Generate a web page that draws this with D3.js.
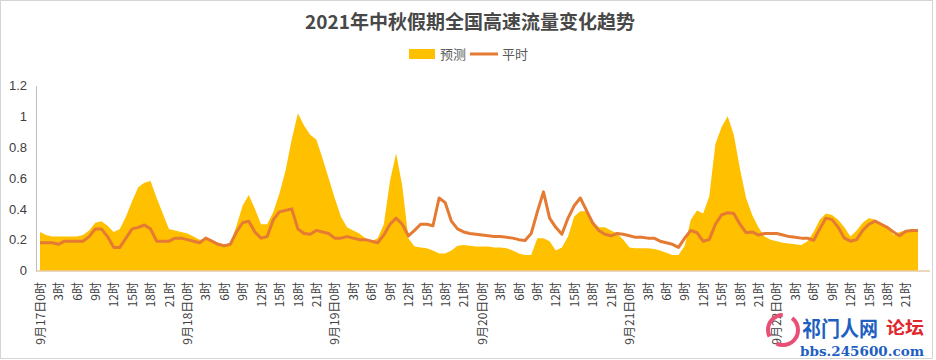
<!DOCTYPE html>
<html><head><meta charset="utf-8">
<script src="https://cdn.jsdelivr.net/npm/d3@7/dist/d3.min.js"></script>
<style>body{margin:0;background:#fff}svg{display:block}</style>
</head><body>
<svg id="c" width="936" height="360"></svg>
<script>
const title = "2021年中秋假期全国高速流量变化趋势";
const seriesNames = ["预测", "平时"];
const days = ["9月17日", "9月18日", "9月19日", "9月20日", "9月21日", "9月22日"];
const hours = d3.range(24);
const categories = days.flatMap(d => hours.map(h => d + h + "时"));
const tickLabels = days.flatMap(d => hours.filter(h => h % 3 === 0).map(h => (h === 0 ? d : "") + h + "时"));
const yTicks = [0, 0.2, 0.4, 0.6, 0.8, 1, 1.2];

const forecast = [
  0.25,0.23,0.22,0.22,0.22,0.22,0.22,0.23,0.26,0.31,0.32,0.29,0.25,0.27,0.35,0.45,0.54,0.57,0.58,0.47,0.37,0.27,0.26,0.25,
  0.24,0.22,0.20,0.20,0.19,0.18,0.17,0.17,0.29,0.42,0.49,0.40,0.30,0.30,0.38,0.50,0.65,0.85,1.02,0.94,0.88,0.85,0.73,0.60,
  0.47,0.35,0.28,0.26,0.24,0.21,0.19,0.21,0.30,0.58,0.76,0.55,0.21,0.155,0.15,0.145,0.13,0.11,0.11,0.13,0.16,0.165,0.16,0.155,
  0.155,0.155,0.15,0.15,0.145,0.13,0.11,0.10,0.10,0.21,0.21,0.19,0.13,0.15,0.22,0.35,0.385,0.385,0.32,0.28,0.28,0.26,0.24,0.20,
  0.15,0.145,0.145,0.145,0.14,0.13,0.115,0.10,0.10,0.16,0.33,0.39,0.37,0.48,0.82,0.93,1.00,0.88,0.66,0.47,0.36,0.28,0.22,0.20,
  0.19,0.18,0.175,0.17,0.165,0.19,0.25,0.33,0.37,0.36,0.33,0.28,0.22,0.26,0.31,0.34,0.33,0.31,0.28,0.23,0.25,0.26,0.26,0.26
];
const usual = [
  0.18,0.18,0.18,0.17,0.19,0.19,0.19,0.19,0.22,0.27,0.27,0.22,0.15,0.15,0.21,0.27,0.28,0.295,0.27,0.19,0.19,0.19,0.21,0.21,
  0.20,0.19,0.18,0.21,0.19,0.17,0.16,0.17,0.25,0.31,0.32,0.25,0.21,0.22,0.33,0.38,0.39,0.40,0.27,0.24,0.235,0.26,0.25,0.24,
  0.21,0.21,0.22,0.21,0.20,0.20,0.19,0.18,0.23,0.30,0.34,0.30,0.225,0.26,0.30,0.30,0.29,0.47,0.44,0.32,0.27,0.25,0.24,0.235,
  0.23,0.225,0.22,0.22,0.215,0.21,0.20,0.195,0.24,0.38,0.51,0.34,0.28,0.235,0.34,0.42,0.47,0.39,0.31,0.26,0.235,0.225,0.24,0.235,
  0.225,0.215,0.215,0.21,0.21,0.19,0.18,0.17,0.15,0.21,0.26,0.245,0.19,0.20,0.30,0.36,0.375,0.37,0.30,0.245,0.25,0.23,0.24,0.24,
  0.24,0.23,0.22,0.215,0.21,0.21,0.195,0.27,0.34,0.33,0.28,0.21,0.19,0.20,0.26,0.30,0.32,0.30,0.28,0.25,0.225,0.255,0.26,0.26
];

const svg = d3.select("#c");
const font = "'Noto Sans CJK SC', 'Noto Sans', sans-serif";
svg.append("rect").attr("x",0.5).attr("y",0.5).attr("width",932).attr("height",358)
  .attr("fill","#fff").attr("stroke","#d4d4d4");

const x = d3.scalePoint().domain(categories).range([40, 918]);
const y = d3.scaleLinear().domain([0, 1.2]).range([270.5, 85.5]);

// title
svg.append("text").attr("x", 470).attr("y", 29).attr("text-anchor","middle")
  .attr("font-family", font).attr("font-weight","bold").attr("font-size", 19)
  .attr("fill","#484848").text(title);

// legend
const lg = svg.append("g").attr("font-family", font).attr("font-size", 13).attr("fill","#595959");
lg.append("rect").attr("x",409).attr("y",49).attr("width",26).attr("height",10).attr("fill","#FFC000");
lg.append("text").attr("x",440).attr("y",59).text(seriesNames[0]);
lg.append("line").attr("x1",470).attr("x2",498).attr("y1",54).attr("y2",54).attr("stroke","#E57A33").attr("stroke-width",3);
lg.append("text").attr("x",502).attr("y",59).text(seriesNames[1]);

// area
const area = d3.area().x((d,i)=>x(categories[i])).y0(y(0)).y1(d=>y(d));
svg.append("path").datum(forecast).attr("d", area).attr("fill","#FFC000");

// line
const line = d3.line().x((d,i)=>x(categories[i])).y(d=>y(d));
svg.append("path").datum(usual).attr("d", line).attr("fill","none")
  .attr("stroke","#E57A33").attr("stroke-width",3).attr("stroke-linejoin","round");

// y axis
const ya = svg.append("g").attr("transform","translate(36,0)")
  .call(d3.axisLeft(y).tickValues(yTicks).tickSize(0).tickPadding(9).tickFormat(d3.format("")));
ya.select(".domain").attr("stroke","#bfbfbf");
ya.selectAll("text").attr("font-family","'Liberation Sans', Arial, sans-serif").attr("font-size",13).attr("fill","#404040");

// x axis
const tickCats = categories.filter((c,i)=> i % 3 === 0);
const xa = svg.append("g").attr("transform","translate(0,271)")
  .call(d3.axisBottom(x).tickValues(tickCats).tickSize(0).tickFormat((d,i)=>tickLabels[i]));
xa.select(".domain").attr("d","M36,0H930").attr("stroke","#d8b27a");
xa.selectAll("text").attr("font-family", font).attr("font-size",12).attr("fill","#404040")
  .attr("text-anchor","end").attr("transform","rotate(-90)").attr("x",-11).attr("y",0).attr("dy","0.35em");

// watermark
const wm = svg.append("g").attr("font-family", font).attr("font-weight","bold");
wm.append("circle").attr("cx",783).attr("cy",330).attr("r",15).attr("fill","none").attr("stroke","#e94e77").attr("stroke-width",4).attr("stroke-dasharray","30 10");
wm.append("text").attr("x",802).attr("y",336).attr("font-size",21).attr("fill","#1f5fbf")
  .attr("textLength",76).attr("lengthAdjust","spacingAndGlyphs").text("祁门人网");
wm.append("text").attr("x",886).attr("y",334).attr("font-size",17).attr("fill","#e0262b")
  .attr("textLength",38).attr("lengthAdjust","spacingAndGlyphs").text("论坛");
wm.append("text").attr("x",800).attr("y",356).attr("font-size",12).attr("fill","#1f5fbf")
  .attr("textLength",124).attr("lengthAdjust","spacingAndGlyphs").attr("font-family","'DejaVu Serif', serif").text("bbs.245600.com");
</script>
</body></html>
